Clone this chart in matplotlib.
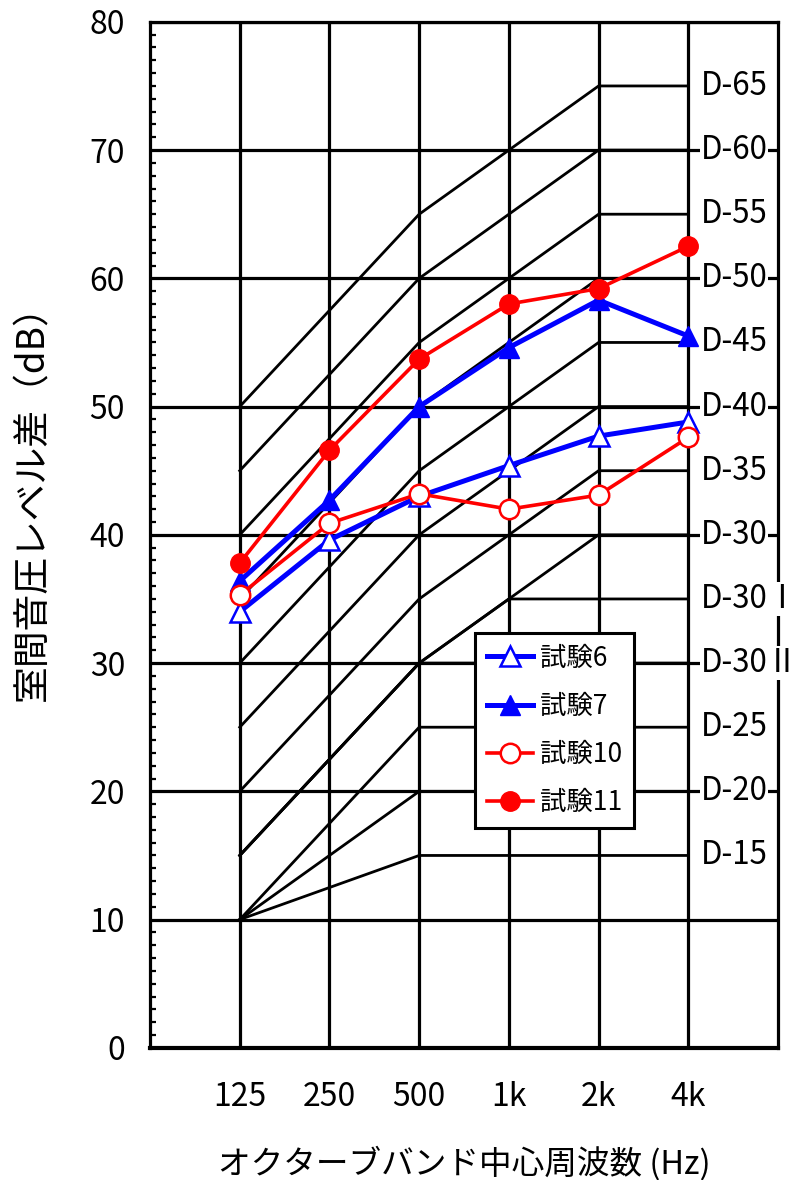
import numpy as np
import matplotlib
matplotlib.use('Agg')
from matplotlib import pyplot as plt
from matplotlib.ticker import MultipleLocator

plt.rcParams['font.family'] = ['Noto Sans CJK JP', 'DejaVu Sans']

#---------------------------------------------------------
# Data

freqs = ['125', '250', '500', '1k', '2k', '4k']

test6 = [34.0, 39.6, 43.0, 45.4, 47.7, 48.8]
test7 = [36.4, 42.7, 50.0, 54.6, 58.3, 55.5]
test10 = [35.3, 40.9, 43.2, 42.0, 43.1, 47.6]
test11 = [37.8, 46.6, 53.7, 58.0, 59.2, 62.5]

series_labels = ['試験6', '試験7', '試験10', '試験11']

# D-curves (reference lines), values at 125 ... 4k
d_names = ['D-65', 'D-60', 'D-55', 'D-50', 'D-45', 'D-40', 'D-35', 'D-30',
           'D-30Ⅰ', 'D-30Ⅱ', 'D-25', 'D-20', 'D-15']
d_curves = [
    [50, 57.5, 65, 70, 75, 75],
    [45, 52.5, 60, 65, 70, 70],
    [40, 47.5, 55, 60, 65, 65],
    [35, 42.5, 50, 55, 60, 60],
    [30, 37.5, 45, 50, 55, 55],
    [25, 32.5, 40, 45, 50, 50],
    [20, 27.5, 35, 40, 45, 45],
    [15, 22.5, 30, 35, 40, 40],
    [15, 22.5, 30, 35, 35, 35],
    [15, 22.5, 30, 30, 30, 30],
    [10, 17.5, 25, 25, 25, 25],
    [10, 15, 20, 20, 20, 20],
    [10, 12.5, 15, 15, 15, 15],
]

#---------------------------------------------------------
# Setting up the plot

fig = plt.figure(figsize=(7.98, 11.8), dpi=100)
ax = fig.add_axes([0.188, 0.112, 0.787, 0.8695])

x = np.arange(len(freqs))
ax.set_xlim(-1, 6)
ax.set_ylim(0, 80)

ax.set_xticks(x)
ax.set_xticklabels(freqs)
ax.yaxis.set_major_locator(MultipleLocator(10))
ax.yaxis.set_minor_locator(MultipleLocator(1))

ax.tick_params(axis='both', which='major', length=0, labelsize=23)
ax.tick_params(axis='x', which='major', pad=24)
ax.tick_params(axis='y', which='major', pad=18)
ax.tick_params(axis='y', which='minor', direction='in', length=4, width=1.6, left=True, right=False)

ax.grid(True, which='major', color='black', linewidth=2.3, zorder=0.5)
for s in ax.spines.values():
    s.set_linewidth(2.3)
ax.spines['bottom'].set_linewidth(3)

# D-curves
for name, vals in zip(d_names, d_curves):
    ax.plot(x, vals, color='black', linewidth=2.0, zorder=1)
    ax.text(5.14, vals[-1], name, fontsize=22.5, ha='left', va='center', zorder=3,
            clip_on=False, bbox=dict(facecolor='white', edgecolor='none', pad=0.5))

# Measured data
ax.plot(x, test6, color='blue', linewidth=3.6, marker='^', markersize=14,
        markerfacecolor='white', markeredgecolor='blue', markeredgewidth=1.8,
        label=series_labels[0], zorder=5)
ax.plot(x, test7, color='blue', linewidth=3.6, marker='^', markersize=14,
        label=series_labels[1], zorder=5)
ax.plot(x, test10, color='red', linewidth=2.6, marker='o', markersize=14,
        markerfacecolor='white', markeredgecolor='red', markeredgewidth=1.8,
        label=series_labels[2], zorder=5)
ax.plot(x, test11, color='red', linewidth=2.6, marker='o', markersize=14,
        label=series_labels[3], zorder=5)

leg = ax.legend(loc='upper left', bbox_to_anchor=(0.518, 0.4045), fontsize=19,
                fancybox=False, edgecolor='black', framealpha=1, handlelength=1.75,
                labelspacing=0.8, borderpad=0.45, handletextpad=0.25, borderaxespad=0)
leg.get_frame().set_linewidth(2.2)
leg.set_zorder(6)

ax.set_xlabel('オクターブバンド中心周波数 (Hz)', fontsize=23.5, labelpad=24)
ax.set_ylabel('室間音圧レベル差（dB）', fontsize=26.5)
ax.yaxis.set_label_coords(-0.155, 0.54)

fig.savefig('out.png', dpi=100)
